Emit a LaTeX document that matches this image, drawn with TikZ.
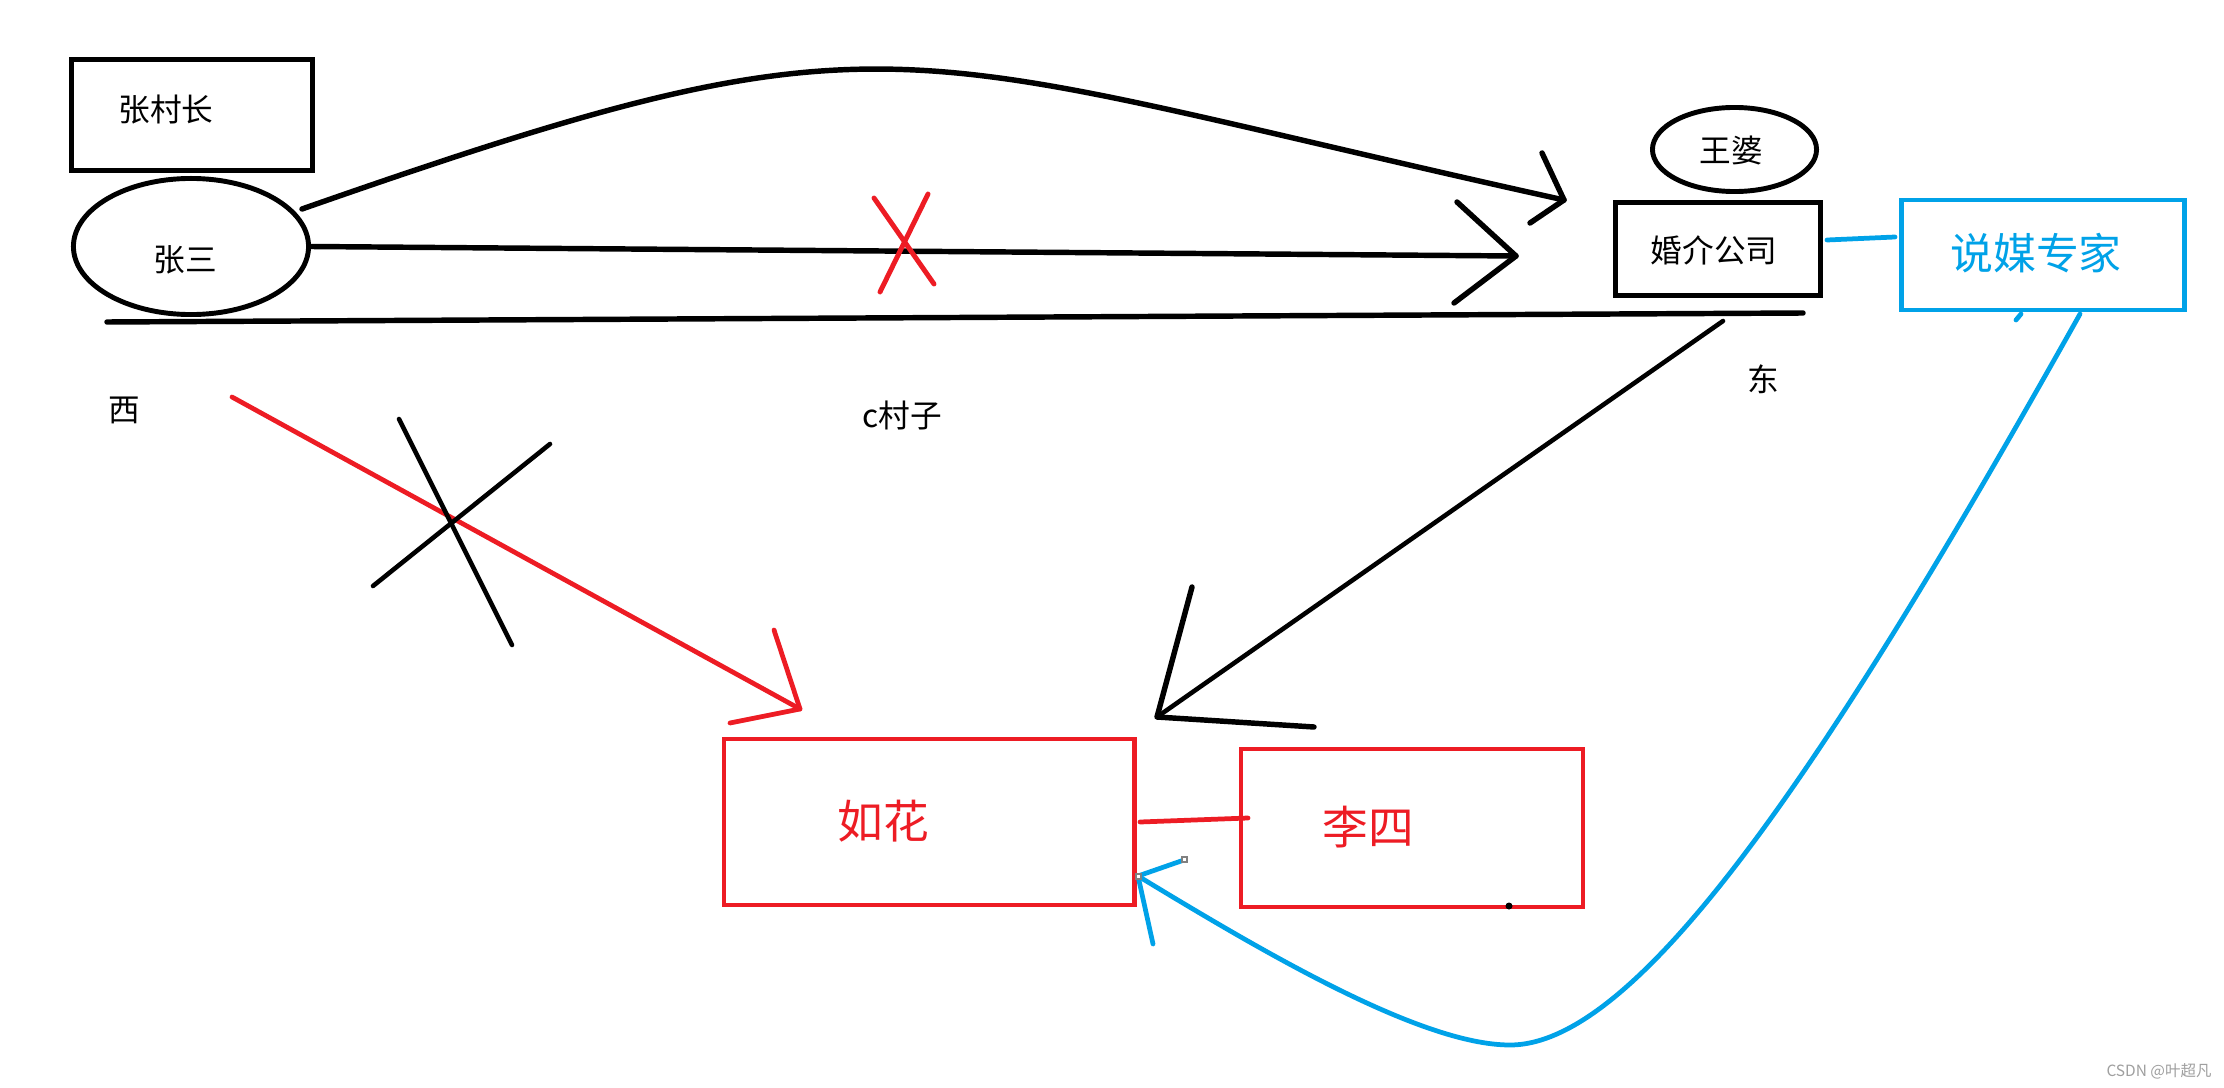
\documentclass[tikz,border=0pt]{standalone}
\usepackage{fontspec}
\setmainfont{Noto Sans CJK SC}
\usetikzlibrary{shapes.geometric}
\definecolor{pred}{HTML}{ED1C24}
\definecolor{pblue}{HTML}{00A2E8}
\tikzset{
  bk/.style={line width=1.55pt, black, line cap=round, line join=round},
  bkthin/.style={line width=1.3pt, black, line cap=round, line join=round},
  rd/.style={line width=1.35pt, pred, line cap=round, line join=round},
  bl/.style={line width=1.35pt, pblue, line cap=round, line join=round},
  kbox/.style={draw=black, line width=1.55pt, rectangle, inner sep=0pt},
  kell/.style={draw=black, line width=1.4pt, ellipse, inner sep=0pt},
  rbox/.style={draw=pred, line width=1.35pt, rectangle, inner sep=0pt},
  bbox/.style={draw=pblue, line width=1.4pt, rectangle, inner sep=0pt},
  txt/.style={inner sep=0pt, font=\fontsize{9}{10}\selectfont},
  rtxt/.style={inner sep=0pt, text=pred, font=\fontsize{13}{14}\selectfont},
  btxt/.style={inner sep=0pt, text=pblue, font=\fontsize{12.2}{13}\selectfont},
}
\begin{document}
\begin{tikzpicture}[x=0.01cm,y=-0.01cm]
\useasboundingbox[fill=white] (0,0) rectangle (2224,1088);

% shapes
\node[kbox, minimum width=2.41cm, minimum height=1.11cm] (cunzhang) at (192,115) {};
\node[kell, minimum width=2.35cm, minimum height=1.36cm] (zhangsan) at (191,246.5) {};
\node[kell, minimum width=1.64cm, minimum height=0.84cm] (wangpo) at (1734.5,149.5) {};
\node[kbox, minimum width=2.05cm, minimum height=0.93cm] (hunjie) at (1718,249) {};
\node[bbox, minimum width=2.83cm, minimum height=1.10cm] (shuomei) at (2043,255) {};
\node[rbox, minimum width=4.10cm, minimum height=1.66cm] (ruhua) at (929,822) {};
\node[rbox, minimum width=3.42cm, minimum height=1.58cm] (lisi) at (1412,828) {};

% texts
\node[txt] (tcz) at (166,110) {张村长};
\node[txt] (tzs) at (185,260) {张三};
\node[txt] (twp) at (1731,150) {王婆};
\node[txt] (thj) at (1714,250) {婚介公司};
\node[btxt] (tsm) at (2036,253) {说媒专家};
\node[rtxt] (trh) at (883,821) {如花};
\node[rtxt] (tls) at (1368,827) {李四};
\node[txt] (txi) at (124,410) {西};
\node[txt] (tcun) at (902,415) {c村子};
\node[txt] (tdong) at (1763,379) {东};
\node[inner sep=0pt, text=gray!75, font=\fontsize{4.4}{5}\selectfont] (wm) at (2159,1071) {CSDN @叶超凡};

% coordinates
\coordinate (c1s) at (302,209);
\coordinate (c1t) at (1564,200);
\coordinate (c2t) at (1516,256);
\coordinate (g1) at (107,322);
\coordinate (g2) at (1803,313);
\coordinate (r1s) at (232,397);
\coordinate (r1t) at (800,709);
\coordinate (d1s) at (1723,321);
\coordinate (d1t) at (1157,717);
\coordinate (b1s) at (2080,314);
\coordinate (b1m) at (1510,1045);
\coordinate (b1t) at (1138,876);

% top curved arrow 张三 -> 婚介公司
\draw[bk] (c1s) .. controls (902,-1) and (884,50) .. (c1t);
\draw[bk] (1542,153) -- (c1t) -- (1530,223);

% straight arrow with red cross
\draw[bk] (zhangsan.east) -- (c2t);
\draw[bk] (1457,202) -- (c2t) -- (1454,303);
\draw[rd, line width=1.4pt] (874,198) -- (934,284);
\draw[rd, line width=1.4pt] (928,194) -- (880,292);

% ground line
\draw[bk] (g1) -- (g2);

% red arrow to 如花 with black cross
\draw[rd] (r1s) -- (r1t);
\draw[rd] (774,630) -- (r1t) -- (730,723);
\draw[bkthin] (399,419) -- (512,645);
\draw[bkthin] (373,586) -- (550,444);

% black arrow from 婚介公司 to 如花
\draw[bkthin] (d1s) -- (d1t);
\draw[bk] (1192,587) -- (d1t) -- (1314,727);

% blue connections
\draw[bl] (1827,240) -- (1895,237);
\draw[bl] (2021,314) -- (2016,320);
\draw[bl] (b1s) .. controls (1830,760) and (1640,1045) .. (b1m)
  .. controls (1420,1045) and (1260,950) .. (b1t);
\draw[bl] (1184,860) -- (b1t) -- (1153,944);
\draw[gray, line width=0.3pt, fill=white] (1136,874) rectangle (1141,879);
\draw[gray, line width=0.3pt, fill=white] (1182,857) rectangle (1187,862);

% red link 如花 - 李四
\draw[rd] (1140,822) -- (1248,818);

% dot
\fill[black] (1509,906) circle (3.5);
\end{tikzpicture}
\end{document}
